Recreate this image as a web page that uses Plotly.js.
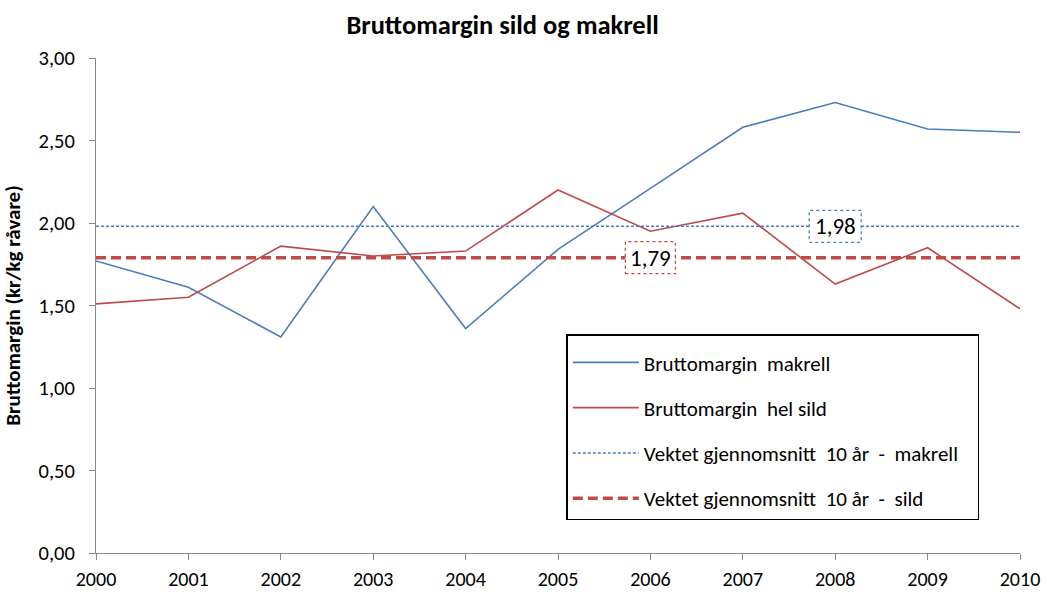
<!DOCTYPE html>
<html>
<head>
<meta charset="utf-8">
<script src="https://cdn.plot.ly/plotly-3.0.1.min.js"></script>
<style>html,body{margin:0;padding:0;background:#fff;}#chart{width:1047px;height:595px;}</style>
</head>
<body>
<div id="chart"></div>
<script>
const years = [2000, 2001, 2002, 2003, 2004, 2005, 2006, 2007, 2008, 2009, 2010];
const makrell = [1.77, 1.61, 1.31, 2.10, 1.36, 1.84, 2.21, 2.58, 2.73, 2.57, 2.55];
const sild = [1.51, 1.55, 1.86, 1.80, 1.83, 2.20, 1.95, 2.06, 1.63, 1.85, 1.48];
const avgMakrell = 1.98;
const avgSild = 1.79;
const avgMakrellLabelYear = 2008;
const avgSildLabelYear = 2006;
const seriesNames = ["Bruttomargin  makrell", "Bruttomargin  hel sild", "Vektet gjennomsnitt  10 år  -  makrell&nbsp;&nbsp;&nbsp;", "Vektet gjennomsnitt  10 år  -  sild"];

const FONT = "Carlito, Calibri, Lato, 'Liberation Sans', sans-serif";
const BLUE = "#4A7EBB";
const RED = "#BE4B48";

const traces = [
  {x: years, y: makrell, name: seriesNames[0], mode: "lines", line: {color: BLUE, width: 1.6}, legendgroup: "a"},
  {x: years, y: sild, name: seriesNames[1], mode: "lines", line: {color: RED, width: 1.6}, legendgroup: "b"},
  {x: years, y: years.map(() => avgMakrell), name: seriesNames[2], mode: "lines", line: {color: BLUE, width: 1.4, dash: "3px,2px"}, legendgroup: "c"},
  {x: years, y: years.map(() => avgSild), name: seriesNames[3], mode: "lines", line: {color: RED, width: 3.5, dash: "10px,5px"}, legendgroup: "d"}
];

const layout = {
  width: 1047, height: 595,
  margin: {l: 96, r: 27, t: 58, b: 42},
  paper_bgcolor: "#fff", plot_bgcolor: "#fff",
  separators: ", ",
  font: {family: FONT, size: 20, color: "#000"},
  title: {text: "<b>Bruttomargin sild og makrell</b>", x: 0.48, xanchor: "center", y: 0.958, yanchor: "middle", font: {family: FONT, size: 26.5, color: "#000"}},
  showlegend: true,
  legend: {
    x: 0.509, y: 0.442, xanchor: "left", yanchor: "top",
    bordercolor: "#000", borderwidth: 1.5, bgcolor: "#fff",
    font: {family: FONT, size: 21, color: "#000"},
    title: {text: " ", font: {size: 5}},
    traceorder: "grouped", tracegroupgap: 15, itemwidth: 66
  },
  xaxis: {
    range: [2000, 2010], tickmode: "array", tickvals: years, ticktext: years.map(String),
    showgrid: false, zeroline: false, showline: true, linecolor: "#888", linewidth: 1,
    ticks: "outside", ticklen: 6, tickcolor: "#888", tickfont: {family: FONT, size: 20},
    ticklabelstandoff: 2
  },
  yaxis: {
    range: [0, 3], dtick: 0.5, tick0: 0, tickformat: ".2f",
    showgrid: false, zeroline: false, showline: true, linecolor: "#888", linewidth: 1,
    ticks: "outside", ticklen: 6, tickcolor: "#888", tickfont: {family: FONT, size: 20.5},
    ticklabelstandoff: 10,
    title: {text: "<b>Bruttomargin (kr/kg råvare)</b>", font: {family: FONT, size: 21}, standoff: 14}
  },
  shapes: [
    {type: "rect", xref: "x", yref: "y", xsizemode: "pixel", ysizemode: "pixel",
     xanchor: avgMakrellLabelYear, yanchor: avgMakrell, x0: -26, x1: 26, y0: -16, y1: 16,
     line: {color: BLUE, width: 1.3, dash: "dot"}, fillcolor: "#fff", layer: "above"},
    {type: "rect", xref: "x", yref: "y", xsizemode: "pixel", ysizemode: "pixel",
     xanchor: avgSildLabelYear, yanchor: avgSild, x0: -25, x1: 25, y0: -16, y1: 16,
     line: {color: RED, width: 1.3, dash: "dot"}, fillcolor: "#fff", layer: "above"}
  ],
  annotations: [
    {x: avgMakrellLabelYear, y: avgMakrell, xref: "x", yref: "y", text: "1,98", showarrow: false, font: {family: FONT, size: 23, color: "#000"}},
    {x: avgSildLabelYear, y: avgSild, xref: "x", yref: "y", text: "1,79", showarrow: false, font: {family: FONT, size: 23, color: "#000"}}
  ]
};

Plotly.newPlot("chart", traces, layout, {displayModeBar: false, staticPlot: true});
</script>
</body>
</html>
